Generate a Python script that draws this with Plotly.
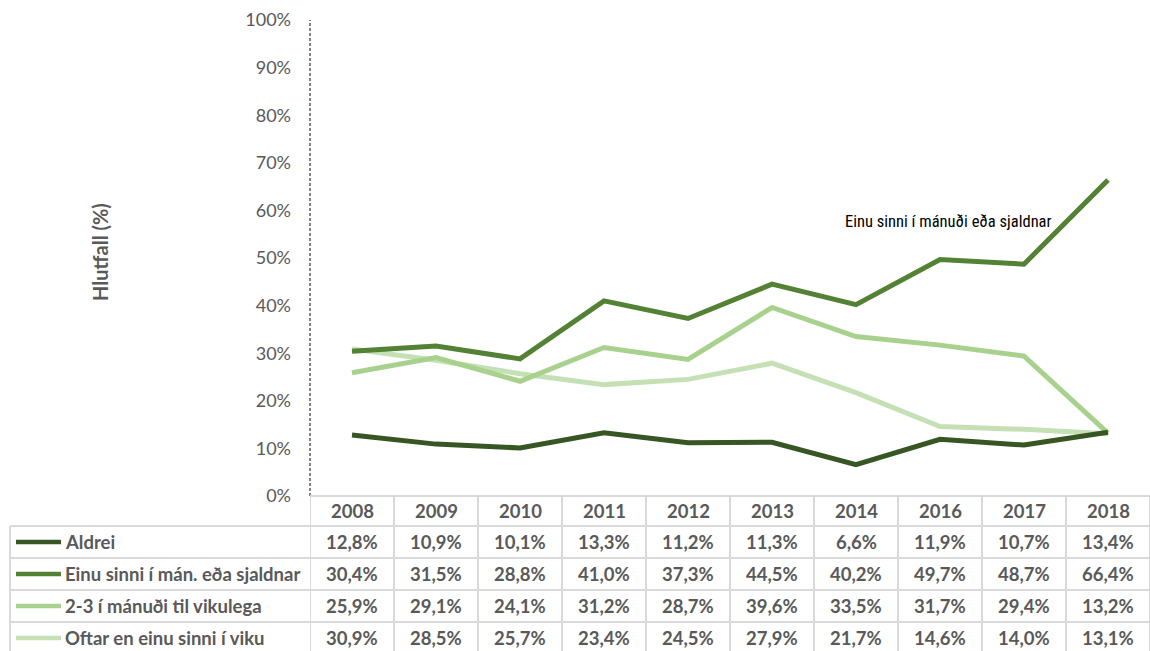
import plotly.graph_objects as go

years = ["2008", "2009", "2010", "2011", "2012", "2013", "2014", "2016", "2017", "2018"]
series_names = ["Aldrei", "Einu sinni í mán. eða sjaldnar", "2-3 í mánuði til vikulega", "Oftar en einu sinni í viku"]
aldrei = [12.8, 10.9, 10.1, 13.3, 11.2, 11.3, 6.6, 11.9, 10.7, 13.4]
einu_sinni = [30.4, 31.5, 28.8, 41.0, 37.3, 44.5, 40.2, 49.7, 48.7, 66.4]
tvo_thrju = [25.9, 29.1, 24.1, 31.2, 28.7, 39.6, 33.5, 31.7, 29.4, 13.2]
oftar = [30.9, 28.5, 25.7, 23.4, 24.5, 27.9, 21.7, 14.6, 14.0, 13.1]
colors = ["#375623", "#548235", "#A9D18E", "#C5E0B4"]
y_ticks = [0, 10, 20, 30, 40, 50, 60, 70, 80, 90, 100]
y_title = "Hlutfall (%)"
line_label = "Einu sinni í mánuði eða sjaldnar"

W, H = 1150, 651
L, R, T, B = 310, 0, 20, 155
PW, PH = W - L - R, H - T - B
plot_bottom = T + PH


def px_x(p):
    return (p - L) / PW


def px_y(p):
    return (plot_bottom - p) / PH


all_series = [aldrei, einu_sinni, tvo_thrju, oftar]
fig = go.Figure()
for name, vals, col in reversed(list(zip(series_names, all_series, colors))):
    fig.add_trace(go.Scatter(x=list(range(len(years))), y=vals, mode="lines", name=name,
                             line=dict(color=col, width=5), showlegend=False,
                             hoverinfo="skip"))

grid_col = "#D9D9D9"
text_col = "#595959"
font_fam = "Lato, Open Sans, sans-serif"
tbl_size = 18.5

shapes = []
annotations = []

shapes.append(dict(type="line", xref="paper", yref="paper", x0=0, x1=0, y0=0, y1=1,
                   line=dict(color="#404040", width=1.3, dash="3px,2px")))
shapes.append(dict(type="line", xref="paper", yref="paper", x0=0, x1=1, y0=0, y1=0,
                   line=dict(color=grid_col, width=2)))

row_lines = [526, 558, 590, 622]
row_centers = [542, 574, 606, 638]
header_center = 511
for yl in row_lines:
    shapes.append(dict(type="line", xref="paper", yref="paper", x0=px_x(10), x1=1,
                       y0=px_y(yl), y1=px_y(yl), line=dict(color=grid_col, width=2)))
shapes.append(dict(type="line", xref="paper", yref="paper", x0=px_x(10), x1=px_x(10),
                   y0=px_y(526), y1=px_y(H + 2), line=dict(color=grid_col, width=2)))
for i in range(len(years) + 1):
    shapes.append(dict(type="line", xref="x", yref="paper", x0=i - 0.5, x1=i - 0.5,
                       y0=0, y1=px_y(H + 2), line=dict(color=grid_col, width=2)))

for i, yr in enumerate(years):
    annotations.append(dict(x=i, y=px_y(header_center), xref="x", yref="paper", text=yr,
                            showarrow=False, font=dict(family=font_fam, size=tbl_size, color=text_col, weight="bold"),
                            xanchor="center", yanchor="middle"))

for r, (name, vals, col) in enumerate(zip(series_names, all_series, colors)):
    yc = px_y(row_centers[r])
    shapes.append(dict(type="line", xref="paper", yref="paper", x0=px_x(16), x1=px_x(61),
                       y0=yc, y1=yc, line=dict(color=col, width=4.5)))
    annotations.append(dict(x=px_x(63), y=yc, xref="paper", yref="paper", text=name,
                            showarrow=False, xanchor="left", yanchor="middle",
                            font=dict(family=font_fam, size=tbl_size, color=text_col, weight="bold")))
    for i, v in enumerate(vals):
        annotations.append(dict(x=i, y=yc, xref="x", yref="paper",
                                text=f"{v:.1f}%".replace(".", ","), showarrow=False,
                                xanchor="center", yanchor="middle",
                                font=dict(family=font_fam, size=tbl_size, color=text_col, weight="bold")))

annotations.append(dict(x=px_x(100), y=px_y(252), xref="paper", yref="paper", text=y_title,
                        textangle=-90, showarrow=False, xanchor="center", yanchor="middle",
                        font=dict(family=font_fam, size=20, color=text_col, weight="bold")))

annotations.append(dict(x=7.1, y=57.6, xref="x", yref="y", text=line_label, showarrow=False,
                        xanchor="center", yanchor="middle",
                        font=dict(family="Liberation Sans Narrow, Arial Narrow, Roboto Condensed, sans-serif",
                                  size=16.5, color="#000000")))

fig.update_layout(
    width=W, height=H, autosize=False,
    margin=dict(l=L, r=R, t=T, b=B, pad=0),
    paper_bgcolor="white", plot_bgcolor="white",
    shapes=shapes, annotations=annotations,
    xaxis=dict(range=[-0.5, len(years) - 0.5], showticklabels=False, showgrid=False,
               zeroline=False, showline=False, ticks="", fixedrange=True),
    yaxis=dict(range=[0, 100], tickvals=y_ticks, ticktext=[f"{t}%" for t in y_ticks],
               showgrid=False, zeroline=False, showline=False, ticks="",
               ticklabelstandoff=18,
               tickfont=dict(family=font_fam, size=18, color=text_col), fixedrange=True),
)

fig.write_html("out.html", config={"displayModeBar": False},
               post_script="document.body.style.margin='0';document.body.style.overflow='hidden';")
